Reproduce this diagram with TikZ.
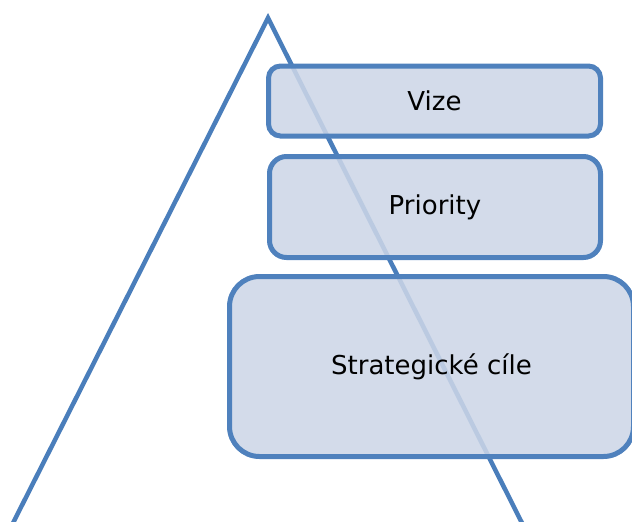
\documentclass[tikz,border=0pt]{standalone}
\usepackage{fontspec}
\setmainfont{DejaVu Sans}
\usepackage{tikz}

\begin{document}
\begin{tikzpicture}[x=1pt,y=-1pt]

\definecolor{pyrline}{RGB}{74,126,187}
\definecolor{boxline}{RGB}{79,129,189}
\definecolor{boxfill}{RGB}{204,214,231}

\tikzset{level/.style={draw=boxline,line width=5pt,fill=boxfill,fill opacity=0.87,
    text opacity=1,inner sep=0pt,font=\fontsize{26}{30}\selectfont}}

\useasboundingbox(0,0)rectangle(632,522);

% pyramid
\coordinate(top)at(268,18);
\coordinate(bl)at(11,527);
\coordinate(br)at(524,527);
\draw[pyrline,line width=4.5pt](bl)--(top)--(br);

% levels
\node[level,rounded corners=12pt,minimum width=332pt,minimum height=70pt](vize)at(434.5,101){Vize};
\node[level,rounded corners=17pt,minimum width=331pt,minimum height=101pt](prio)at(435,207){Priority};
\node[level,rounded corners=30pt,minimum width=404pt,minimum height=180pt](cile)at(431.5,366.5){Strategické cíle};

\end{tikzpicture}
\end{document}
